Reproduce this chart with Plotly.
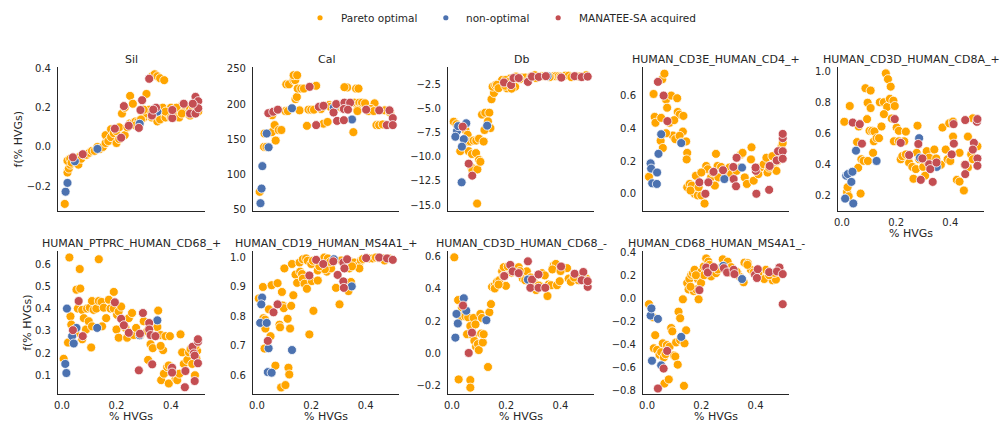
import plotly.graph_objects as go

# ---------------- data ----------------
categories = ["Pareto optimal", "non-optimal", "MANATEE-SA acquired"]
panel_titles = ["Sil", "Cal", "Db", "HUMAN_CD3E_HUMAN_CD4_+", "HUMAN_CD3D_HUMAN_CD8A_+",
                "HUMAN_PTPRC_HUMAN_CD68_+", "HUMAN_CD19_HUMAN_MS4A1_+", "HUMAN_CD3D_HUMAN_CD68_-",
                "HUMAN_CD68_HUMAN_MS4A1_-"]

# Sil
sil_po_x = [0.01, 0.02, 0.025, 0.03, 0.02, 0.03, 0.035, 0.05, 0.06, 0.065, 0.07, 0.08, 0.09, 0.10, 0.11, 0.12, 0.13, 0.14, 0.15, 0.16,
            0.16, 0.17, 0.18, 0.18, 0.19, 0.20, 0.20, 0.21, 0.21, 0.22, 0.23, 0.23, 0.24, 0.25, 0.25, 0.26, 0.26, 0.27, 0.28, 0.30,
            0.31, 0.31, 0.32, 0.33, 0.33, 0.34, 0.35, 0.35, 0.35, 0.36, 0.36, 0.37, 0.375, 0.38, 0.39, 0.40, 0.41, 0.42, 0.43, 0.44,
            0.45, 0.46, 0.47, 0.48, 0.49, 0.50, 0.30, 0.38, 0.42, 0.44, 0.47, 0.40, 0.29, 0.27]
sil_po_y = [-0.29, -0.13, -0.11, -0.09, -0.07, -0.06, -0.08, -0.07, -0.09, -0.05, -0.06, -0.04, -0.04, -0.03, -0.02, -0.02, 0.00, -0.01, 0.00, 0.02,
            0.06, 0.03, 0.05, 0.09, 0.07, 0.08, 0.02, 0.10, 0.04, 0.17, 0.06, 0.20, 0.10, 0.12, 0.26, 0.12, 0.22, 0.13, 0.13, 0.15,
            0.17, 0.27, 0.19, 0.36, 0.15, 0.37, 0.36, 0.17, 0.13, 0.35, 0.14, 0.20, 0.34, 0.15, 0.17, 0.20, 0.19, 0.16, 0.15, 0.21,
            0.18, 0.17, 0.20, 0.19, 0.21, 0.18, 0.19, 0.18, 0.20, 0.17, 0.16, 0.15, 0.14, 0.11]
sil_no_x = [0.013, 0.02, 0.047, 0.13, 0.285, 0.35]
sil_no_y = [-0.228, -0.183, -0.073, -0.01, 0.118, 0.18]
sil_ms_x = [0.04, 0.076, 0.194, 0.217, 0.227, 0.245, 0.282, 0.294, 0.288, 0.32, 0.33, 0.345, 0.335, 0.405, 0.405, 0.447, 0.47, 0.49,
            0.49, 0.5, 0.5, 0.48]
sil_ms_y = [-0.053, -0.037, 0.093, 0.047, 0.208, 0.108, 0.097, 0.238, 0.188, 0.347, 0.16, 0.2, 0.19, 0.147, 0.188, 0.22, 0.17, 0.17,
            0.255, 0.233, 0.197, 0.22]

# Cal
cal_po_x = [0.01, 0.026, 0.035, 0.028, 0.055, 0.065, 0.069, 0.08, 0.09, 0.056, 0.105, 0.114, 0.142, 0.147, 0.157, 0.108, 0.118, 0.135,
            0.141, 0.135, 0.148, 0.15, 0.163, 0.173, 0.218, 0.184, 0.245, 0.26, 0.19, 0.2, 0.21, 0.236, 0.266, 0.332, 0.322, 0.365,
            0.374, 0.355, 0.359, 0.377, 0.387, 0.37, 0.37, 0.398, 0.433, 0.42, 0.44, 0.45, 0.463, 0.41, 0.43, 0.27, 0.30, 0.31,
            0.47, 0.49]
cal_po_y = [75, 139, 139, 158, 160, 170, 148, 163, 163, 184, 190, 190, 207, 210, 191, 228, 228, 234, 234, 241, 241, 222, 222, 222, 226,
            169, 172, 174.5, 192, 192, 192, 193, 198.6, 223.6, 224, 222, 222, 160, 202, 202, 202, 192, 190, 201, 201, 193, 170, 170,
            171, 190, 190, 196, 197, 195, 191, 188]
cal_no_x = [0.013, 0.017, 0.02, 0.036, 0.043, 0.129, 0.283, 0.35]
cal_no_y = [58.8, 79.6, 111.6, 158, 138.4, 194, 195, 178]
cal_ms_x = [0.042, 0.06, 0.077, 0.194, 0.218, 0.228, 0.245, 0.282, 0.292, 0.295, 0.32, 0.322, 0.343, 0.32, 0.335, 0.402, 0.45, 0.478,
            0.488, 0.5, 0.5]
cal_ms_y = [187, 189, 192, 224.5, 170, 196, 197.5, 188, 200, 176, 177, 202, 202, 193, 192, 192, 191, 170, 191, 180, 170]

# Db
db_po_x = [0.007, 0.017, 0.05, 0.058, 0.031, 0.056, 0.068, 0.08, 0.09, 0.1, 0.117, 0.062, 0.074, 0.089, 0.072, 0.076, 0.094, 0.1,
           0.105, 0.093, 0.111, 0.123, 0.138, 0.133, 0.142, 0.12, 0.146, 0.155, 0.15, 0.16, 0.172, 0.184, 0.203, 0.215, 0.236, 0.233,
           0.26, 0.27, 0.305, 0.33, 0.34, 0.375, 0.383, 0.393, 0.417, 0.43, 0.46, 0.488, 0.495, 0.185, 0.198, 0.166, 0.172, 0.197,
           0.25, 0.29, 0.31, 0.36, 0.40, 0.44, 0.47, 0.21, 0.22]
db_po_y = [-6.34, -6.6, -7.2, -7.7, -9.4, -8.4, -8.4, -8.3, -8.3, -8.1, -8.4, -9.4, -9.7, -9.6, -11.1, -11.4, -11.3, -10.3, -10.5,
           -14.85, -5.6, -5.4, -5.4, -6.3, -7.0, -7.2, -4.0, -3.35, -2.7, -2.55, -2.4, -2.26, -2.87, -1.85, -1.65, -2.7, -1.75, -1.75,
           -1.5, -1.6, -1.6, -1.6, -1.6, -1.6, -1.55, -1.55, -1.6, -1.6, -1.5, -2.0, -2.0, -2.5, -2.85, -2.6,
           -1.9, -1.7, -1.8, -1.7, -1.65, -1.7, -1.65, -2.2, -2.9]
db_no_x = [0.019, 0.013, 0.023, 0.053, 0.044, 0.037, 0.036, 0.13, 0.352]
db_no_y = [-7.3, -7.9, -6.8, -6.5, -8.15, -8.93, -12.64, -6.75, -1.6]
db_ms_x = [0.04, 0.062, 0.075, 0.192, 0.218, 0.227, 0.246, 0.28, 0.295, 0.32, 0.346, 0.403, 0.452, 0.478, 0.5]
db_ms_y = [-6.85, -10.7, -11.95, -2.26, -2.53, -1.8, -1.8, -2.2, -1.65, -1.68, -1.6, -1.75, -1.6, -1.7, -1.65]

# HUMAN_CD3E_HUMAN_CD4_+
cd4_po_x = [0.007, 0.024, 0.028, 0.031, 0.052, 0.056, 0.064, 0.07, 0.074, 0.083, 0.089, 0.111, 0.095, 0.104, 0.113, 0.12, 0.134,
            0.132, 0.12, 0.126, 0.144, 0.148, 0.146, 0.05, 0.058,
            0.148, 0.157, 0.165, 0.175, 0.187, 0.2, 0.212, 0.18, 0.218, 0.224, 0.236, 0.242, 0.254, 0.26, 0.273, 0.263, 0.291, 0.303,
            0.346, 0.352, 0.36, 0.368, 0.344, 0.383, 0.385, 0.393, 0.417, 0.43, 0.44, 0.444, 0.469, 0.477, 0.487, 0.496, 0.5, 0.462,
            0.16, 0.19, 0.2, 0.25, 0.31, 0.33, 0.41, 0.45, 0.48, 0.07, 0.1]
cd4_po_y = [0.104, 0.61, 0.47, 0.434, 0.464, 0.7, 0.734, 0.576, 0.526, 0.434, 0.6, 0.584, 0.356, 0.334, 0.5, 0.484, 0.476, 0.38,
            0.354, 0.314, 0.32, 0.25, 0.21, 0.324, 0.28,
            0.04, 0.06, 0.05, 0.0, -0.01, -0.01, -0.06, 0.11, 0.17, 0.15, 0.1, 0.13, 0.244, 0.17, 0.164, 0.1, 0.14, 0.16, 0.24, 0.25,
            0.1, 0.06, 0.16, 0.21, 0.284, 0.08, 0.16, 0.18, 0.22, 0.13, 0.18, 0.14, 0.24, 0.29, 0.31, 0.23,
            0.02, 0.04, 0.13, 0.05, 0.12, 0.14, 0.12, 0.16, 0.2, 0.37, 0.45]
cd4_no_x = [0.013, 0.015, 0.019, 0.036, 0.037, 0.052, 0.042, 0.126, 0.285, 0.35]
cd4_no_y = [0.186, 0.154, 0.064, 0.06, 0.13, 0.364, 0.244, 0.31, 0.09, 0.16]
cd4_ms_x = [0.04, 0.061, 0.075, 0.193, 0.215, 0.226, 0.245, 0.28, 0.318, 0.319, 0.328, 0.33, 0.401, 0.403, 0.4, 0.45, 0.452, 0.478,
            0.483, 0.5, 0.5, 0.5, 0.5]
cd4_ms_y = [0.684, 0.6, 0.444, 0.07, 0.0, 0.07, 0.134, 0.144, 0.164, 0.09, 0.046, 0.22, 0.14, 0.0, 0.16, 0.024, 0.17, 0.204, 0.26,
            0.26, 0.214, 0.34, 0.366]

# HUMAN_CD3D_HUMAN_CD8A_+
cd8_po_x = [0.009, 0.019, 0.025, 0.021, 0.029, 0.056, 0.062, 0.069, 0.06, 0.072, 0.08, 0.096, 0.087, 0.106, 0.095, 0.106, 0.093,
            0.102, 0.112, 0.12, 0.118, 0.128, 0.115, 0.137, 0.146, 0.14, 0.155, 0.162, 0.17, 0.18, 0.167, 0.155, 0.177, 0.19, 0.195,
            0.184, 0.202, 0.21, 0.192, 0.21, 0.23, 0.236, 0.217, 0.223, 0.236, 0.248, 0.26, 0.273, 0.264, 0.279, 0.276, 0.285, 0.3,
            0.313, 0.313, 0.322, 0.307, 0.341, 0.348, 0.365, 0.371, 0.383, 0.39, 0.4, 0.396, 0.41, 0.41, 0.424, 0.434, 0.434, 0.453,
            0.465, 0.45, 0.465, 0.477, 0.483, 0.5, 0.483]
cd8_po_y = [0.675, 0.225, 0.198, 0.256, 0.776, 0.545, 0.645, 0.215, 0.38, 0.435, 0.425, 0.424, 0.89, 0.875, 0.797, 0.763, 0.692,
            0.617, 0.617, 0.613, 0.55, 0.57, 0.476, 0.57, 0.645, 0.8, 0.8, 0.985, 0.948, 0.9, 0.77, 0.724, 0.822, 0.81, 0.776, 0.696,
            0.638, 0.617, 0.55, 0.55, 0.55, 0.612, 0.435, 0.455, 0.466, 0.413, 0.386, 0.372, 0.31, 0.65, 0.476, 0.435, 0.386, 0.487,
            0.424, 0.445, 0.33, 0.497, 0.44, 0.4, 0.638, 0.497, 0.435, 0.424, 0.665, 0.676, 0.58, 0.303, 0.292, 0.476, 0.4, 0.382,
            0.235, 0.58, 0.466, 0.435, 0.518, 0.697]
cd8_no_x = [0.012, 0.016, 0.022, 0.035, 0.039, 0.042, 0.052, 0.128, 0.285, 0.288, 0.35]
cd8_no_y = [0.183, 0.33, 0.34, 0.29, 0.355, 0.152, 0.49, 0.424, 0.57, 0.445, 0.386]
cd8_ms_x = [0.04, 0.066, 0.074, 0.195, 0.217, 0.248, 0.282, 0.297, 0.291, 0.322, 0.326, 0.335, 0.349, 0.405, 0.412, 0.413, 0.455,
            0.455, 0.455, 0.487, 0.483, 0.498, 0.5, 0.5, 0.5]
cd8_ms_y = [0.67, 0.66, 0.535, 0.692, 0.54, 0.462, 0.533, 0.44, 0.303, 0.403, 0.372, 0.29, 0.414, 0.466, 0.66, 0.535, 0.4, 0.34,
            0.686, 0.54, 0.497, 0.675, 0.692, 0.44, 0.393]

# HUMAN_PTPRC_HUMAN_CD68_+
cd68p_po_x = [0.006, 0.022, 0.027, 0.031, 0.034, 0.049, 0.053, 0.065, 0.067, 0.058, 0.074, 0.08, 0.088, 0.074, 0.092, 0.102, 0.11,
              0.107, 0.098, 0.11, 0.116, 0.126, 0.135, 0.135, 0.145, 0.153, 0.162, 0.147, 0.172, 0.178, 0.19, 0.19, 0.202, 0.208,
              0.217, 0.2, 0.208, 0.233, 0.239, 0.245, 0.257, 0.263, 0.272, 0.288, 0.3, 0.313, 0.316, 0.325, 0.333, 0.343, 0.35,
              0.353, 0.362, 0.38, 0.371, 0.362, 0.364, 0.374, 0.386, 0.392, 0.396, 0.392, 0.41, 0.417, 0.423, 0.431, 0.435, 0.441,
              0.447, 0.46, 0.466, 0.472, 0.488, 0.493, 0.496, 0.49, 0.478]
cd68p_po_y = [0.174, 0.247, 0.63, 0.365, 0.328, 0.29, 0.485, 0.578, 0.49, 0.4, 0.394, 0.357, 0.306, 0.262, 0.4, 0.404, 0.434, 0.225,
              0.343, 0.32, 0.394, 0.4, 0.434, 0.622, 0.43, 0.404, 0.357, 0.32, 0.44, 0.4, 0.4, 0.475, 0.372, 0.387, 0.409, 0.306,
              0.269, 0.313, 0.269, 0.357, 0.38, 0.281, 0.313, 0.281, 0.343, 0.298, 0.169, 0.24, 0.222, 0.276, 0.317, 0.391, 0.281,
              0.276, 0.213, 0.232, 0.078, 0.107, 0.137, 0.144, 0.276, 0.063, 0.107, 0.085, 0.078, 0.107, 0.284, 0.203, 0.151,
              0.169, 0.203, 0.218, 0.1, 0.176, 0.21, 0.232, 0.151]
cd68p_no_x = [0.012, 0.016, 0.018, 0.037, 0.043, 0.053, 0.129, 0.285, 0.35]
cd68p_no_y = [0.151, 0.11, 0.4, 0.276, 0.243, 0.313, 0.313, 0.28, 0.347]
cd68p_ms_x = [0.04, 0.061, 0.076, 0.194, 0.217, 0.227, 0.245, 0.282, 0.286, 0.297, 0.32, 0.32, 0.325, 0.331, 0.343, 0.404, 0.404,
              0.453, 0.451, 0.479, 0.484, 0.487, 0.487, 0.499, 0.499, 0.499]
cd68p_ms_y = [0.303, 0.434, 0.276, 0.428, 0.354, 0.325, 0.291, 0.122, 0.287, 0.38, 0.335, 0.306, 0.281, 0.149, 0.276, 0.134, 0.112,
              0.119, 0.046, 0.228, 0.198, 0.188, 0.074, 0.251, 0.154, 0.262]

# HUMAN_CD19_HUMAN_MS4A1_+
ms4a1p_po_x = [0.007, 0.022, 0.024, 0.03, 0.031, 0.028, 0.05, 0.044, 0.054, 0.068, 0.076, 0.083, 0.085, 0.092, 0.095, 0.099, 0.089,
               0.105, 0.101, 0.113, 0.116, 0.119, 0.122, 0.126, 0.134, 0.129, 0.142, 0.148, 0.157, 0.169, 0.181, 0.159, 0.166,
               0.169, 0.175, 0.184, 0.187, 0.2, 0.202, 0.208, 0.193, 0.224, 0.236, 0.248, 0.261, 0.257, 0.273, 0.291, 0.304, 0.338,
               0.34, 0.337, 0.346, 0.358, 0.371, 0.383, 0.377, 0.414, 0.426, 0.438, 0.463, 0.487, 0.206, 0.224,
               0.31, 0.27, 0.25, 0.35, 0.23, 0.39, 0.45, 0.47]
ms4a1p_po_y = [0.861, 0.9, 0.794, 0.789, 0.759, 0.691, 0.733, 0.824, 0.906, 0.633, 0.913, 0.772, 0.763, 0.883, 0.837, 0.828, 0.559,
               0.567, 0.963, 0.792, 0.626, 0.603, 0.759, 0.836, 0.872, 0.978, 0.942, 0.914, 0.983, 0.994, 0.997, 0.952, 0.944,
               0.928, 0.911, 0.894, 0.989, 0.978, 0.92, 0.819, 0.739, 0.956, 0.987, 1.0, 0.997, 0.952, 0.963, 0.897, 0.841, 0.989,
               0.963, 0.886, 0.917, 0.983, 0.972, 0.989, 0.963, 0.997, 0.997, 1.0, 0.997, 0.997, 0.989, 0.922,
               0.99, 0.985, 0.96, 0.97, 0.97, 0.995, 0.998, 0.99]
ms4a1p_no_x = [0.019, 0.016, 0.012, 0.036, 0.043, 0.04, 0.054, 0.129, 0.283, 0.349]
ms4a1p_no_y = [0.864, 0.841, 0.778, 0.778, 0.692, 0.611, 0.609, 0.686, 0.994, 0.902]
ms4a1p_ms_x = [0.04, 0.061, 0.076, 0.193, 0.218, 0.244, 0.281, 0.297, 0.318, 0.322, 0.318, 0.32, 0.332, 0.402, 0.45, 0.479, 0.5]
ms4a1p_ms_y = [0.717, 0.814, 0.841, 0.939, 0.992, 0.978, 0.987, 0.941, 0.983, 0.963, 0.919, 0.897, 0.994, 0.998, 1.0, 0.997, 0.992]

# HUMAN_CD3D_HUMAN_CD68_-
cd68m_po_x = [0.009, 0.025, 0.023, 0.034, 0.037, 0.05, 0.056, 0.06, 0.068, 0.068, 0.068, 0.08, 0.087, 0.078, 0.083, 0.089, 0.096,
              0.099, 0.105, 0.111, 0.108, 0.114, 0.117, 0.133, 0.138, 0.144, 0.148, 0.158, 0.166, 0.175, 0.185, 0.191, 0.199,
              0.206, 0.234, 0.246, 0.261, 0.27, 0.276, 0.31, 0.313, 0.332, 0.342, 0.352, 0.356, 0.365, 0.375, 0.383, 0.387, 0.397,
              0.411, 0.424, 0.43, 0.438, 0.46, 0.466, 0.495, 0.5, 0.158, 0.172, 0.301,
              0.22, 0.25, 0.29, 0.32, 0.37, 0.40, 0.45, 0.48, 0.19]
cd68m_po_y = [0.595, -0.162, 0.33, 0.229, 0.284, 0.229, 0.118, 0.223, -0.166, -0.213, 0.169, 0.219, 0.179, 0.108, 0.077, 0.041,
              0.057, 0.02, 0.244, 0.219, 0.122, 0.067, 0.118, -0.085, 0.254, 0.305, 0.412, 0.422, 0.443, 0.453, 0.508, 0.534,
              0.418, 0.538, 0.528, 0.534, 0.463, 0.453, 0.508, 0.392, 0.412, 0.497, 0.483, 0.355, 0.426, 0.422, 0.544, 0.554,
              0.422, 0.447, 0.524, 0.528, 0.463, 0.443, 0.483, 0.453, 0.463, 0.439, 0.402, 0.426, 0.443,
              0.50, 0.51, 0.47, 0.42, 0.52, 0.51, 0.47, 0.49, 0.48]
cd68m_no_x = [0.013, 0.017, 0.022, 0.044, 0.053, 0.127, 0.28]
cd68m_no_y = [0.097, 0.244, 0.185, 0.341, 0.264, 0.205, 0.457]
cd68m_ms_x = [0.041, 0.062, 0.074, 0.193, 0.215, 0.224, 0.246, 0.28, 0.295, 0.289, 0.319, 0.319, 0.344, 0.402, 0.452, 0.484, 0.478,
              0.5, 0.5]
cd68m_ms_y = [0.296, 0.002, 0.128, 0.479, 0.548, 0.508, 0.497, 0.57, 0.457, 0.406, 0.489, 0.406, 0.406, 0.538, 0.493, 0.504, 0.453,
              0.412, 0.447]

# HUMAN_CD68_HUMAN_MS4A1_-
ms4a1m_po_x = [0.007, 0.022, 0.03, 0.025, 0.037, 0.046, 0.052, 0.058, 0.062, 0.068, 0.064, 0.073, 0.083, 0.08, 0.089, 0.093, 0.099,
               0.104, 0.107, 0.113, 0.116, 0.122, 0.122, 0.132, 0.136, 0.138, 0.144, 0.148, 0.153, 0.156, 0.163, 0.169, 0.175,
               0.172, 0.181, 0.187, 0.19, 0.199, 0.201, 0.209, 0.218, 0.226, 0.236, 0.242, 0.254, 0.267, 0.279, 0.288, 0.297,
               0.303, 0.334, 0.34, 0.356, 0.359, 0.371, 0.383, 0.393, 0.418, 0.432, 0.438, 0.463, 0.475, 0.493, 0.488,
               0.21, 0.23, 0.26, 0.31, 0.33, 0.37, 0.41, 0.45, 0.47, 0.16, 0.18]
ms4a1m_po_y = [-0.051, -0.165, -0.32, -0.434, -0.448, -0.49, -0.468, -0.391, -0.513, -0.485, -0.74, -0.406, -0.42, -0.704, -0.258,
               -0.287, -0.496, -0.505, -0.383, -0.576, -0.116, -0.173, -0.363, -0.009, -0.76, -0.391, -0.278, 0.133, 0.077, 0.167,
               0.204, 0.218, 0.247, 0.062, 0.077, 0.167, -0.009, 0.133, 0.233, 0.275, 0.346, 0.318, 0.19, 0.275, 0.218, 0.261,
               0.338, 0.275, 0.318, 0.224, 0.218, 0.19, 0.139, 0.309, 0.304, 0.247, 0.224, 0.218, 0.167, 0.247, 0.156, 0.162,
               0.227, 0.247,
               0.2, 0.29, 0.25, 0.27, 0.23, 0.29, 0.22, 0.2, 0.22, 0.1, 0.2]
ms4a1m_no_x = [0.013, 0.016, 0.018, 0.04, 0.052, 0.126, 0.281, 0.35]
ms4a1m_no_y = [-0.15, -0.088, -0.542, -0.179, -0.582, -0.335, 0.281, 0.167]
ms4a1m_ms_x = [0.04, 0.061, 0.074, 0.193, 0.218, 0.224, 0.246, 0.283, 0.295, 0.319, 0.322, 0.398, 0.408, 0.405, 0.45, 0.488, 0.479,
               0.5, 0.5]
ms4a1m_ms_y = [-0.783, -0.61, -0.457, 0.071, 0.267, 0.224, 0.27, 0.261, 0.224, 0.247, 0.21, 0.204, 0.252, 0.176, 0.227, 0.267,
               0.233, 0.21, -0.051]

# y tick values per panel
sil_ticks = [-0.2, 0.0, 0.2, 0.4]
cal_ticks = [50, 100, 150, 200, 250]
db_ticks = [-15.0, -12.5, -10.0, -7.5, -5.0, -2.5]
cd4_ticks = [0.0, 0.2, 0.4, 0.6]
cd8_ticks = [0.2, 0.4, 0.6, 0.8, 1.0]
cd68p_ticks = [0.1, 0.2, 0.3, 0.4, 0.5, 0.6]
ms4a1p_ticks = [0.6, 0.7, 0.8, 0.9, 1.0]
cd68m_ticks = [-0.2, 0.0, 0.2, 0.4, 0.6]
ms4a1m_ticks = [-0.8, -0.6, -0.4, -0.2, 0.0, 0.2, 0.4]
x_ticks = [0.0, 0.2, 0.4]

# ---------------- figure ----------------
W, H = 1001, 431
COLORS = ["#FFA500", "#4C72B0", "#C44E52"]
TXT = "#262626"
FONT = "DejaVu Sans"

col_px = [(54.3, 201.7), (250.0, 397.0), (445.7, 592.7), (641.7, 788.5), (837.3, 984.0)]
row_px = [(64.0, 210.7), (251.7, 397.3)]

panels = [
    (sil_po_x, sil_po_y, sil_no_x, sil_no_y, sil_ms_x, sil_ms_y, sil_ticks, 1, [-0.325, 0.408]),
    (cal_po_x, cal_po_y, cal_no_x, cal_no_y, cal_ms_x, cal_ms_y, cal_ticks, 0, [48, 253]),
    (db_po_x, db_po_y, db_no_x, db_no_y, db_ms_x, db_ms_y, db_ticks, 1, [-15.6, -0.63]),
    (cd4_po_x, cd4_po_y, cd4_no_x, cd4_no_y, cd4_ms_x, cd4_ms_y, cd4_ticks, 1, [-0.104, 0.776]),
    (cd8_po_x, cd8_po_y, cd8_no_x, cd8_no_y, cd8_ms_x, cd8_ms_y, cd8_ticks, 1, [0.105, 1.027]),
    (cd68p_po_x, cd68p_po_y, cd68p_no_x, cd68p_no_y, cd68p_ms_x, cd68p_ms_y, cd68p_ticks, 1, [0.016, 0.659]),
    (ms4a1p_po_x, ms4a1p_po_y, ms4a1p_no_x, ms4a1p_no_y, ms4a1p_ms_x, ms4a1p_ms_y, ms4a1p_ticks, 1, [0.537, 1.022]),
    (cd68m_po_x, cd68m_po_y, cd68m_no_x, cd68m_no_y, cd68m_ms_x, cd68m_ms_y, cd68m_ticks, 1, [-0.252, 0.634]),
    (ms4a1m_po_x, ms4a1m_po_y, ms4a1m_no_x, ms4a1m_no_y, ms4a1m_ms_x, ms4a1m_ms_y, ms4a1m_ticks, 1, [-0.83, 0.41]),
]


def fmt(v, dec):
    s = f"{v:.{dec}f}"
    return s.replace("-", "\u2212")


fig = go.Figure()
layout = {}
annotations = []

for i, (pox, poy, nox, noy, msx, msy, yt, dec, yr) in enumerate(panels):
    r, c = divmod(i, 5)
    idx = "" if i == 0 else str(i + 1)
    xa, ya = "x" + idx, "y" + idx
    for xs, ys, col in ((pox, poy, COLORS[0]), (nox, noy, COLORS[1]), (msx, msy, COLORS[2])):
        fig.add_trace(go.Scatter(x=xs, y=ys, mode="markers", xaxis=xa, yaxis=ya, showlegend=False,
                                 marker=dict(size=9, color=col, line=dict(color="white", width=0.8)),
                                 hoverinfo="skip"))
    x0, x1 = col_px[c]
    y0, y1 = row_px[r]
    show_x = (r == 1) or (c == 4)
    layout["xaxis" + idx] = dict(
        domain=[x0 / W, x1 / W], anchor=ya, range=[-0.0145, 0.5245],
        showgrid=False, zeroline=False, showline=True, linecolor=TXT, linewidth=1.25,
        tickvals=x_ticks, ticktext=[fmt(v, 1) for v in x_ticks], showticklabels=show_x,
        ticks="outside", ticklen=2, tickcolor="rgba(0,0,0,0)",
        tickfont=dict(family=FONT, size=10, color=TXT))
    layout["yaxis" + idx] = dict(
        domain=[1 - y1 / H, 1 - y0 / H], anchor=xa, range=yr,
        showgrid=False, zeroline=False, showline=True, linecolor=TXT, linewidth=1.25,
        tickvals=yt, ticktext=[fmt(v, dec) for v in yt],
        ticks="outside", ticklen=4, tickcolor="rgba(0,0,0,0)",
        tickfont=dict(family=FONT, size=10, color=TXT))
    # panel title
    annotations.append(dict(text=panel_titles[i], xref="paper", yref="paper",
                            x=(x0 + x1) / 2 / W, y=1 - (y0 - 7.5) / H, xanchor="center", yanchor="middle",
                            showarrow=False, font=dict(family=FONT, size=11, color=TXT)))
    if show_x:
        annotations.append(dict(text="% HVGs", xref="paper", yref="paper",
                                x=(x0 + x1) / 2 / W, y=1 - (y1 + 23.5) / H, xanchor="center", yanchor="middle",
                                showarrow=False, font=dict(family=FONT, size=11, color=TXT)))

# y axis labels
for ypx, xpx in ((137.5, 15.5), (325.0, 24.0)):
    annotations.append(dict(text="f(% HVGs)", xref="paper", yref="paper", x=xpx / W, y=1 - ypx / H,
                            xanchor="center", yanchor="middle", textangle=-90, showarrow=False,
                            font=dict(family=FONT, size=11, color=TXT)))

# legend (manual)
shapes = []
leg_dot_px = [317.3, 443.6, 556.4]
leg_txt_px = [336.5, 461.5, 575.0]
leg_y = 14.0
for cat, col, dx, tx in zip(categories, COLORS, leg_dot_px, leg_txt_px):
    shapes.append(dict(type="circle", xref="paper", yref="paper", xsizemode="pixel", ysizemode="pixel",
                       xanchor=dx / W, yanchor=1 - leg_y / H, x0=-2.6, x1=2.6, y0=-2.6, y1=2.6,
                       fillcolor=col, line=dict(width=0)))
    annotations.append(dict(text=cat, xref="paper", yref="paper", x=tx / W, y=1 - leg_y / H,
                            xanchor="left", yanchor="middle", showarrow=False,
                            font=dict(family=FONT, size=10.5, color=TXT)))

fig.update_layout(width=W, height=H, margin=dict(l=0, r=0, t=0, b=0),
                  paper_bgcolor="white", plot_bgcolor="white",
                  font=dict(family=FONT, size=10, color=TXT),
                  annotations=annotations, shapes=shapes, **layout)

fig.write_html("out.html", config={"displayModeBar": False},
               post_script="document.body.style.margin='0px';document.body.style.overflow='hidden';")
